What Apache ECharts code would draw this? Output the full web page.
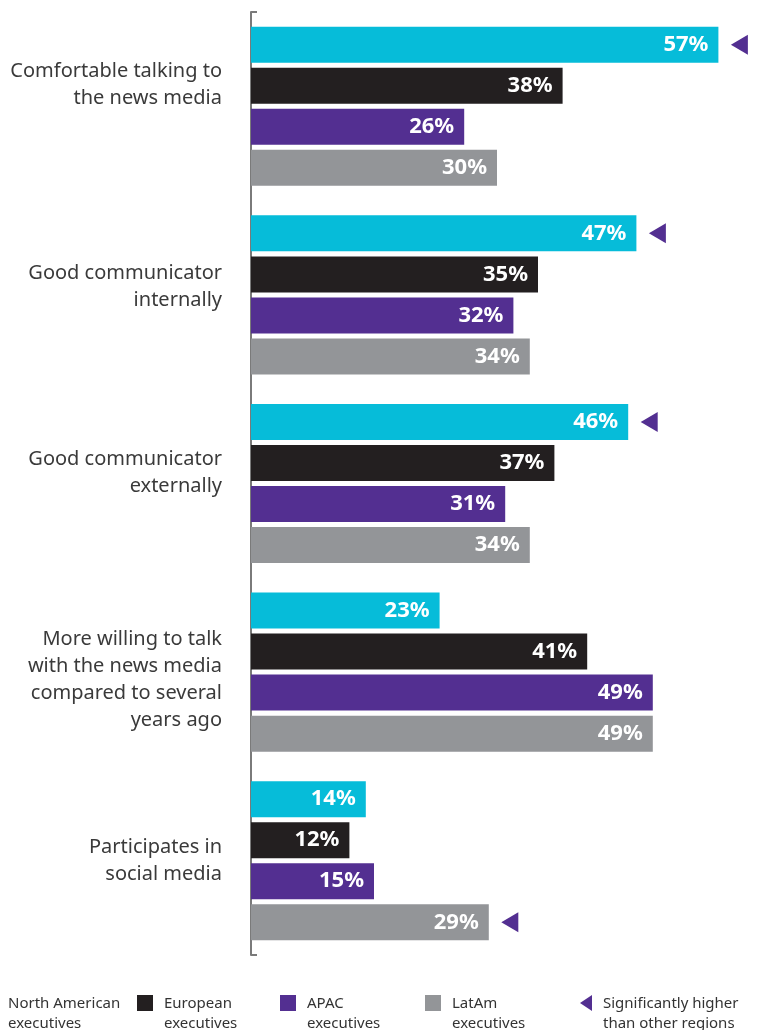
<!DOCTYPE html>
<html>
<head>
<meta charset="utf-8">
<script src="https://cdn.jsdelivr.net/npm/echarts@6/dist/echarts.min.js"></script>
<style>
html,body{margin:0;padding:0;background:#fff;}
#chart{width:760px;height:1030px;}
</style>
</head>
<body>
<div id="chart"></div>
<script>
const categories = [
  "Comfortable talking to\nthe news media",
  "Good communicator\ninternally",
  "Good communicator\nexternally",
  "More willing to talk\nwith the news media\ncompared to several\nyears ago",
  "Participates in\nsocial media"
];
const seriesNames = ["North American executives", "European executives", "APAC executives", "LatAm executives"];
const northAmerica = [57, 47, 46, 23, 14];
const europe = [38, 35, 37, 41, 12];
const apac = [26, 32, 31, 49, 15];
const latam = [30, 34, 34, 49, 29];
// significantly higher flags per series (1 = marked)
const sigNorthAmerica = [1, 1, 1, 0, 0];
const sigEurope = [0, 0, 0, 0, 0];
const sigApac = [0, 0, 0, 0, 0];
const sigLatam = [0, 0, 0, 0, 1];
const legendLabels = ["North American\nexecutives", "European\nexecutives", "APAC\nexecutives", "LatAm\nexecutives", "Significantly higher\nthan other regions"];

// ---- styling / layout ----
const colors = ["#06BCD9", "#231F20", "#532F91", "#939598"];
const purple = "#532F91";
// vertical nudge of each category label (px, negative = up)
const labelShift = [-22, -8, -11, 8, 0];
const values = [northAmerica, europe, apac, latam];
const sigs = [sigNorthAmerica, sigEurope, sigApac, sigLatam];

const rich = {};
labelShift.forEach((s, i) => {
  rich['sp' + i] = {fontSize: 1, lineHeight: Math.max(1, Math.abs(s) * 2)};
});

const chart = echarts.init(document.getElementById('chart'), null, {renderer: 'canvas'});

const series = values.map((vals, si) => ({
  name: seriesNames[si],
  type: 'bar',
  yAxisIndex: 0,
  data: vals,
  barWidth: 36,
  barGap: '14%',
  itemStyle: {color: colors[si]},
  label: {
    show: true,
    position: 'insideRight',
    distance: 10,
    formatter: '{c}%',
    color: '#fff',
    fontFamily: 'Noto Sans',
    fontWeight: 'bold',
    fontSize: 22
  },
  markPoint: {
    symbol: 'triangle',
    symbolSize: [20, 17],
    symbolRotate: 90,
    symbolOffset: [21, 0],
    itemStyle: {color: purple},
    label: {show: false},
    data: vals.map((v, ci) => sigs[si][ci] ? {coord: [v, categories[ci]]} : null).filter(Boolean)
  }
}));

const legendX = [8, 137, 280, 425, 580];
const graphic = [];
legendLabels.forEach((t, i) => {
  if (i >= 1 && i <= 3) {
    graphic.push({type: 'rect', left: legendX[i], top: 995, shape: {width: 16, height: 16}, style: {fill: colors[i]}});
  }
  if (i === 4) {
    graphic.push({type: 'polygon', shape: {points: [[legendX[i] + 12, 995], [legendX[i] + 12, 1011], [legendX[i], 1003]]}, style: {fill: purple}});
  }
  graphic.push({
    type: 'text',
    left: i === 0 ? 8 : legendX[i] + (i === 4 ? 23 : 27),
    top: 994,
    style: {text: t, fill: '#333', font: '15px "Noto Sans"', lineHeight: 20}
  });
});

chart.setOption({
  animation: false,
  backgroundColor: '#fff',
  grid: {left: 251, top: 12, width: 492, height: 943},
  xAxis: {type: 'value', min: 0, max: 60, show: false},
  yAxis: [{
    type: 'category',
    inverse: true,
    data: categories,
    axisLine: {show: false},
    axisTick: {show: false},
    axisLabel: {
      margin: 29,
      color: '#3a3a3a',
      fontFamily: 'Noto Sans',
      fontSize: 20,
      lineHeight: 27,
      align: 'right',
      rich: rich,
      formatter: (v, i) => {
        const s = labelShift[i];
        if (s < 0) return v + '\n{sp' + i + '| }';
        if (s > 0) return '{sp' + i + '| }\n' + v;
        return v;
      }
    }
  }, {
    type: 'value',
    position: 'left',
    min: 0, max: 1, interval: 1,
    axisLine: {show: true, lineStyle: {color: '#7a7a7a', width: 2}},
    axisTick: {show: true, inside: true, length: 6, lineStyle: {color: '#7a7a7a', width: 2}},
    axisLabel: {show: false},
    splitLine: {show: false}
  }],
  series: series,
  graphic: graphic
});
</script>
</body>
</html>
